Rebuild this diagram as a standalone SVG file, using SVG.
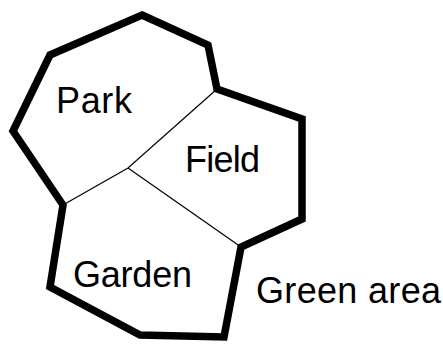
<svg xmlns="http://www.w3.org/2000/svg" width="443" height="344" viewBox="0 0 443 344">
<style>
.outline{fill:none;stroke:#000;stroke-width:7.5;stroke-linejoin:miter;stroke-miterlimit:10}
.div{fill:none;stroke:#000;stroke-width:1.2}
.lbl{font-family:"Liberation Sans",Arial,sans-serif;font-size:36px;fill:#000}
</style>
<rect width="443" height="344" fill="#fff"/>
<g id="connectors">
<polyline class="div" points="217,89 128,168 63,205"/>
<line class="div" x1="128" y1="168" x2="241" y2="247"/>
</g>
<g id="outline">
<polygon class="outline" points="142,15 208,45 217,89 302,119 302,219 241,247 224,337 140,335 50,287 63,205 13,131 50,55"/>
</g>
<g id="park"><text class="lbl" x="56" y="113" textLength="76">Park</text></g>
<g id="field"><text class="lbl" x="185" y="172" textLength="75">Field</text></g>
<g id="garden"><text class="lbl" x="73" y="287" textLength="119">Garden</text></g>
<g id="green-area"><text class="lbl" x="256" y="303" textLength="185">Green area</text></g>
</svg>
